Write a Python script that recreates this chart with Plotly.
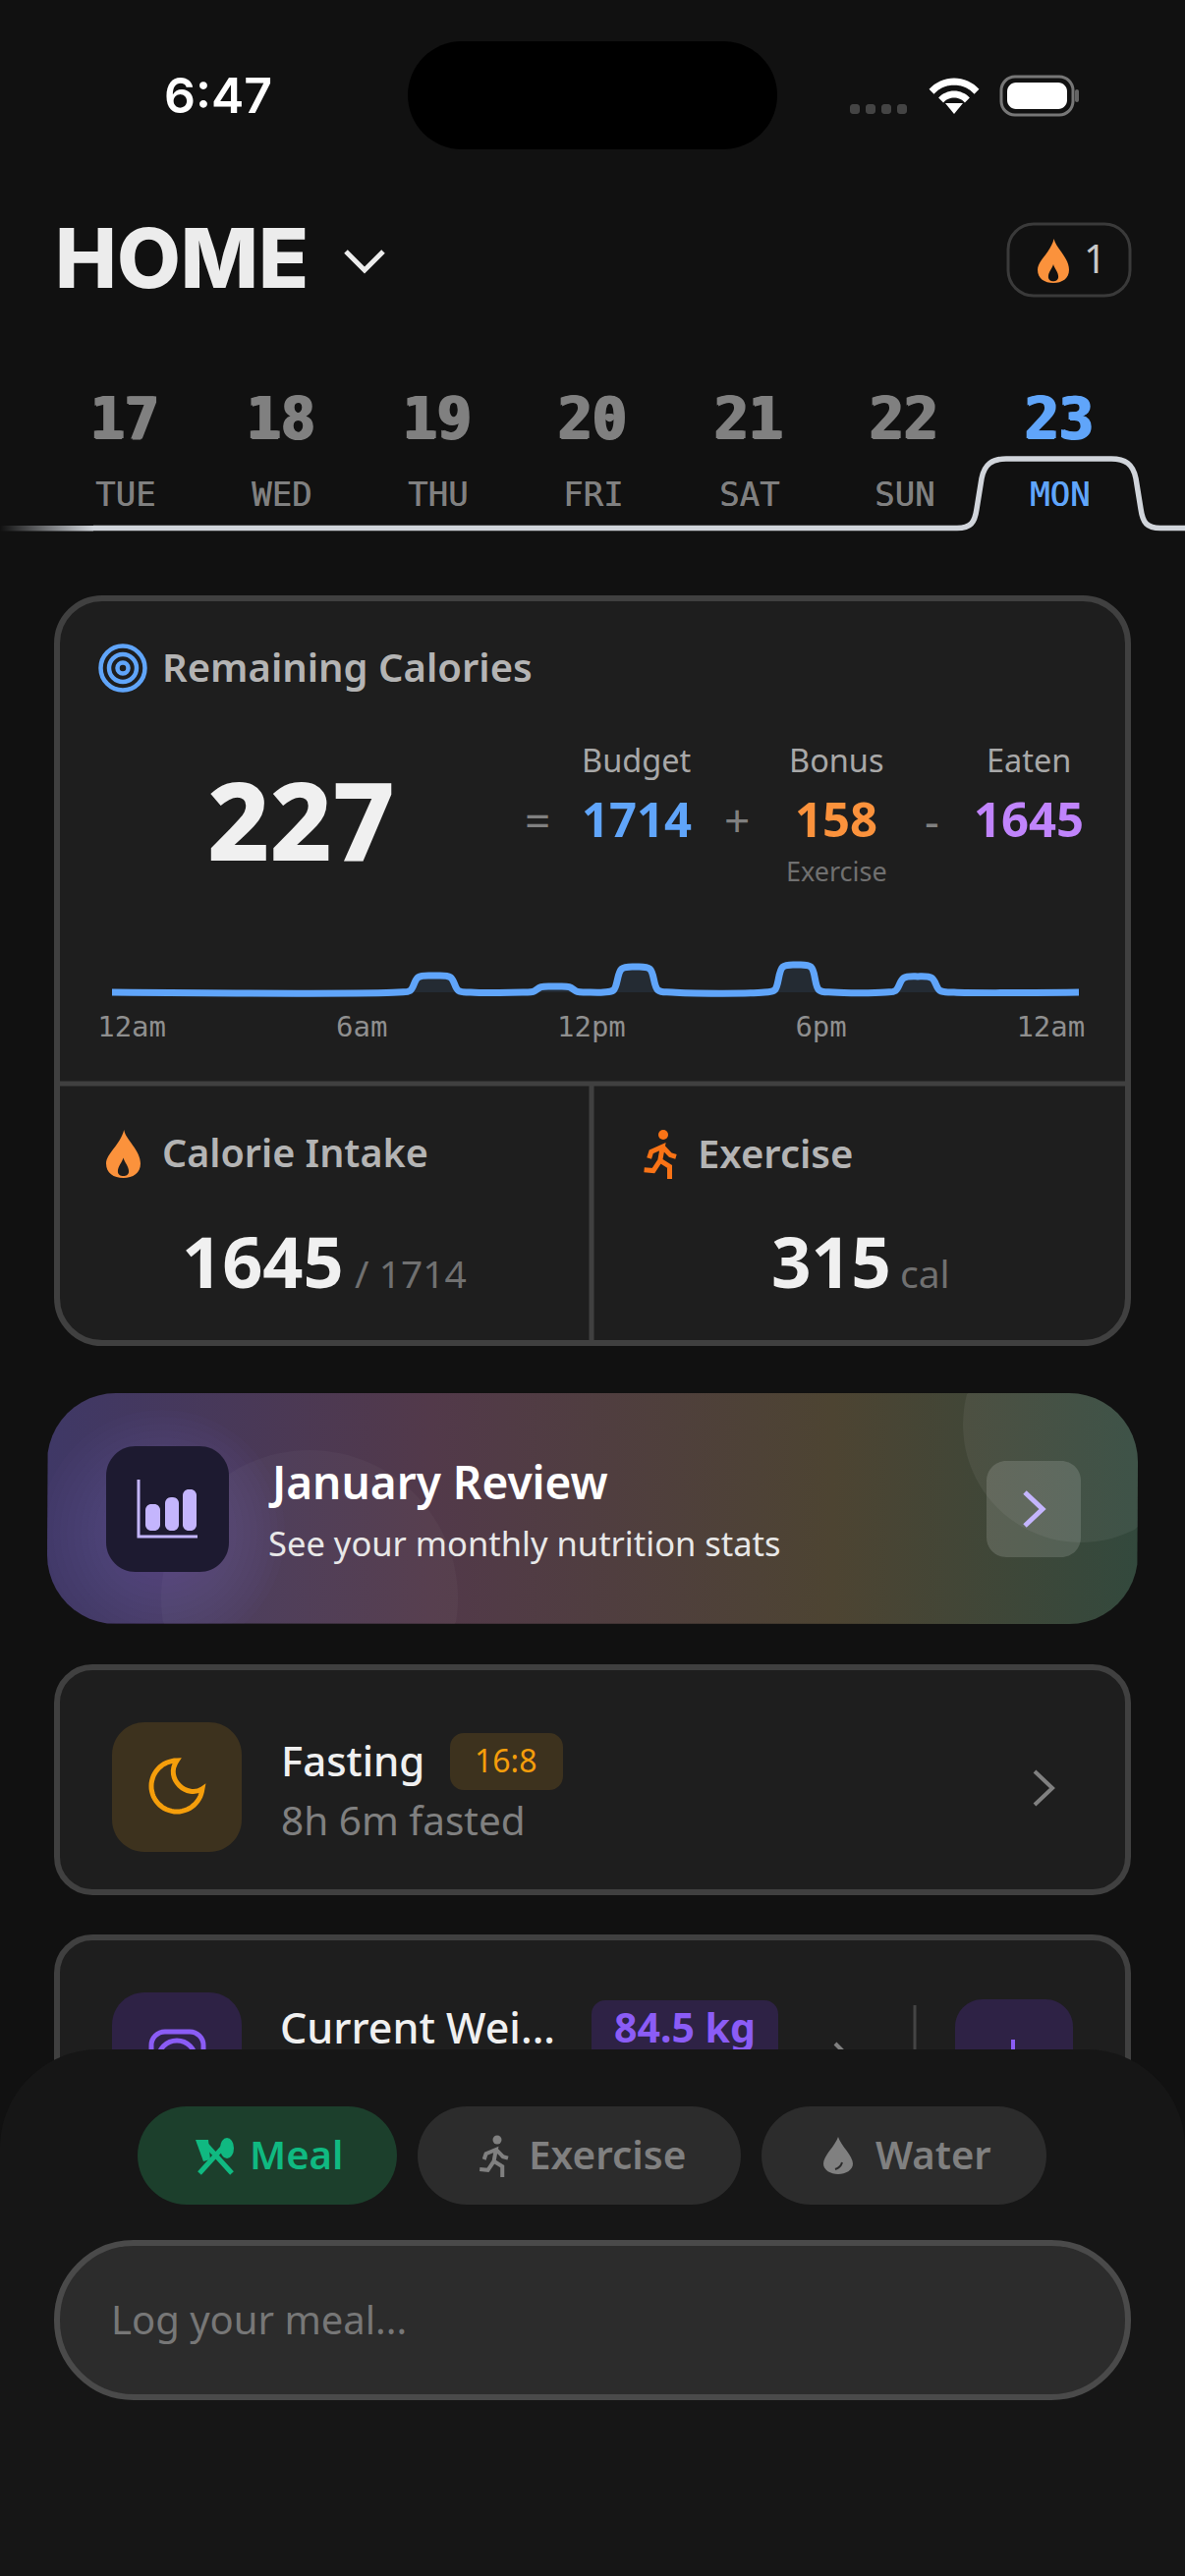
import math
import re
import plotly.graph_objects as go

W, H = 1206, 2622
BG = "#111111"
CARD = "#1e1e1e"
BORDER = "#404040"
BLUE = "#60a5fa"
ORANGE = "#fb923c"
PURPLE = "#8b5cf6"
GREY = "#808080"
UI = "Noto Sans"
MONO = "DejaVu Sans Mono"

# date strip
date_nums = ["17", "18", "19", "20", "21", "22", "23"]
date_days = ["TUE", "WED", "THU", "FRI", "SAT", "SUN", "MON"]
date_x = [127, 286, 445, 603, 762, 920, 1078]

# calorie summary
remaining = 227
budget = 1714
bonus = 158
eaten = 1645
exercise_cal = 315
weight = "84.5 kg"

# calories over the day
hours = [0, 7.1, 7.4, 7.6, 8.0, 8.4, 8.6, 8.9, 10.2, 10.45, 10.65, 11.0, 11.35, 11.55, 11.8,
         12.2, 12.45, 12.65, 13.0, 13.35, 13.55, 13.9, 16.2, 16.45, 16.65, 17.0, 17.35, 17.55, 17.9,
         19.2, 19.45, 19.65, 20.0, 20.35, 20.55, 20.9, 24]
calories = [0, 0, 30, 270, 300, 270, 30, 0, 0, 10, 95, 105, 95, 10, 0,
            0, 40, 420, 460, 420, 40, 0, 0, 40, 455, 495, 455, 40, 0,
            0, 30, 255, 285, 255, 30, 0, 0]
hour_labels = ["12am", "6am", "12pm", "6pm", "12am"]
hour_ticks = [0.49, 6.2, 11.9, 17.6, 23.3]

FLAME = "M .52 0 C .56 .2 1 .42 1 .7 C 1 .9 .78 1 .5 1 C .22 1 0 .9 0 .7 C 0 .5 .42 .3 .52 0 Z"
FLAME_HOLE = "M .5 .58 C .54 .68 .66 .76 .66 .86 C .66 .93 .58 .96 .5 .96 C .42 .96 .34 .93 .34 .86 C .34 .76 .46 .68 .5 .58 Z"
DROP = "M .5 0 C .6 .25 1 .5 1 .72 C 1 .9 .75 1 .5 1 C .25 1 0 .9 0 .72 C 0 .5 .4 .25 .5 0 Z"
RUNNER = ("M .1 .78 L .36 .8 L .55 .55 L .82 .7 L .82 1 M .55 .55 L .62 .22 L .3 .34 L .24 .5 "
          "M .62 .22 L .84 .42 L 1 .46")

shapes = []
annos = []


def add_path(path, fill="rgba(0,0,0,0)", line=None, width=0, layer="above"):
    shapes.append(dict(type="path", path=path, xref="x", yref="y", fillcolor=fill, layer=layer,
                       line=dict(color=line or "rgba(0,0,0,0)", width=width)))


def rr(x0, y0, x1, y1, r):
    k = r * 0.4477
    return (f"M {x0+r} {y0} L {x1-r} {y0} C {x1-k} {y0} {x1} {y0+k} {x1} {y0+r} "
            f"L {x1} {y1-r} C {x1} {y1-k} {x1-k} {y1} {x1-r} {y1} "
            f"L {x0+r} {y1} C {x0+k} {y1} {x0} {y1-k} {x0} {y1-r} "
            f"L {x0} {y0+r} C {x0} {y0+k} {x0+k} {y0} {x0+r} {y0} Z")


def box(x0, y0, x1, y1, r, fill, line=None, width=0, layer="above"):
    add_path(rr(x0, y0, x1, y1, r), fill, line, width, layer)


def icon(path, x, y, w, h):
    # scale a path written in a 0-1 box up to the page
    out = []
    nums = 0
    for tok in path.split():
        if re.match(r"[A-Z]", tok):
            out.append(tok)
        else:
            out.append(str(round(x + float(tok) * w if nums % 2 == 0 else y + float(tok) * h, 2)))
            nums += 1
    return " ".join(out)


def circle(cx, cy, r, fill="rgba(0,0,0,0)", line=None, width=0, layer="above"):
    shapes.append(dict(type="circle", xref="x", yref="y", x0=cx-r, x1=cx+r, y0=cy-r, y1=cy+r,
                       fillcolor=fill, layer=layer,
                       line=dict(color=line or "rgba(0,0,0,0)", width=width)))


def text(x, y, s, size, color, weight=400, anchor="left", font=UI, shadow=None):
    f = dict(family=font, size=size, color=color, weight=weight)
    if shadow:
        f["shadow"] = shadow
    if font == UI:
        y -= 2  # Noto sits a little low in its line box
    annos.append(dict(x=x, y=y, xref="x", yref="y", text=s, showarrow=False, xanchor=anchor, yanchor="middle",
                      font=f, borderpad=0))


# banner clipping
BAN = (48, 1418, 1158, 1653, 70)


def clamp_banner(px, py):
    x0, y0, x1, y1, r = BAN
    px = min(max(px, x0), x1)
    py = min(max(py, y0), y1)
    cx = x0 + r if px < x0 + r else (x1 - r if px > x1 - r else px)
    cy = y0 + r if py < y0 + r else (y1 - r if py > y1 - r else py)
    d = math.hypot(px - cx, py - cy)
    if cx != px and cy != py and d > r:
        px = cx + (px - cx) * r / d
        py = cy + (py - cy) * r / d
    return px, py


def banner_circle(cx, cy, r, fill):
    pts = [clamp_banner(cx + r * math.cos(i * math.pi / 60), cy + r * math.sin(i * math.pi / 60)) for i in range(120)]
    add_path("M " + " L ".join(f"{p[0]:.1f} {p[1]:.1f}" for p in pts) + " Z", fill)


def rr_points(x0, y0, x1, y1, r):
    xs, ys = [], []
    for cx, cy, a in [(x1-r, y0+r, -90), (x1-r, y1-r, 0), (x0+r, y1-r, 90), (x0+r, y0+r, 180)]:
        for i in range(13):
            t = math.radians(a + i * 7.5)
            xs.append(cx + r * math.cos(t))
            ys.append(cy + r * math.sin(t))
    return xs + xs[:1], ys + ys[:1]


fig = go.Figure()

# status bar
text(222, 97, "6:47", 50, "#ffffff", 600, "center", "Inter")
box(415, 42, 791, 152, 55, "#000000")
for sx in [865, 881, 897, 913]:
    box(sx, 106, sx + 10, 116, 3, "#444444")
for r, wd in [(31, 7), (18, 7)]:
    pts = [(971 + r * math.cos(math.radians(a)), 114 + r * math.sin(math.radians(a))) for a in range(222, 322, 6)]
    add_path("M " + " L ".join(f"{p[0]:.1f} {p[1]:.1f}" for p in pts), line="#ffffff", width=wd)
add_path("M 962 105 L 980 105 L 971 116 Z", "#ffffff")
box(1019, 78, 1092, 117, 14, "rgba(0,0,0,0)", "#777777", 3)
box(1025, 84, 1086, 111, 9, "#ffffff")
box(1094, 91, 1098, 104, 2, "#666666")

# header
text(55, 262, "HOME", 84, "#ececec", 800, "left", "Inter")
add_path("M 352 256 L 371 275 L 390 256", line="#ececec", width=5)
box(1026, 228, 1150, 301, 26, "rgba(0,0,0,0)", "#3a3a3a", 3)
add_path(icon(FLAME, 1056, 243, 32, 45), ORANGE)
add_path(icon(FLAME_HOLE, 1056, 243, 32, 45), BG)
text(1114, 264, "1", 40, "#c8c8c8", 400, "center")

# date strip
for i in range(7):
    col = BLUE if date_days[i] == "MON" else GREY
    text(date_x[i], 426, date_nums[i], 58, col, 700, "center", MONO,
         f"1.5px 0 0 {col}, -1.5px 0 0 {col}, 0 1px 0 {col}")
    text(date_x[i], 503, date_days[i], 34, col, 400, "center", MONO, f"0.5px 0 0 {col}")
fig.add_trace(go.Scatter(x=[0, 95, 95, 0, 0], y=[535, 535, 540.5, 540.5, 535], mode="lines", line=dict(width=0),
                         fill="toself", hoverinfo="skip", showlegend=False,
                         fillgradient=dict(type="horizontal", colorscale=[[0, BG], [1, "#d1d5db"]])))
add_path("M 95 537.5 L 974 537.5 C 988 537.5 992 532 994 518 L 999 487 C 1002 472 1010 467 1024 467 "
         "L 1131 467 C 1145 467 1153 472 1156 487 L 1161 518 C 1163 532 1167 537.5 1181 537.5 L 1206 537.5",
         line="#d1d5db", width=5.5)

# main card
box(58, 609, 1148, 1367, 46, CARD, BORDER, 6, "below")
add_path("M 58 1103 L 1148 1103", line=BORDER, width=5, layer="below")
add_path("M 602 1103 L 602 1367", line=BORDER, width=5, layer="below")
circle(125, 680, 22.5, line=BLUE, width=4.5)
circle(125, 680, 14, line=BLUE, width=4.5)
circle(125, 680, 5.5, line=BLUE, width=4.5)
text(164, 680, "Remaining Calories", 40, "#b4b4b4", 600)
text(306, 835, str(remaining), 110, "#f0f0f0", 800, "center")
text(547, 836, "=", 46, GREY, 400, "center")
text(750, 836, "+", 46, GREY, 400, "center")
text(948, 836, "-", 46, GREY, 400, "center")
for cx, head, val, col in [(648, "Budget", budget, BLUE), (851, "Bonus", bonus, ORANGE), (1047, "Eaten", eaten, "#c084fc")]:
    text(cx, 775, head, 32.5, "#a8a8a8", 400, "center")
    text(cx, 835, str(val), 49, col, 700, "center")
text(851, 888, "Exercise", 27, "#707070", 400, "center")

# the calorie line
fig.add_trace(go.Scatter(x=hours, y=calories, xaxis="x2", yaxis="y2", mode="lines",
                         line=dict(color=BLUE, width=7, shape="spline", smoothing=1.0),
                         fill="tozeroy", fillcolor="rgba(96,165,250,0.1)", hoverinfo="skip", showlegend=False))

add_path(icon(FLAME, 108, 1150, 35, 49), ORANGE)
add_path(icon(FLAME_HOLE, 108, 1150, 35, 49), CARD)
text(164, 1175, "Calorie Intake", 39.5, "#b4b4b4", 600)
add_path(icon(RUNNER, 652, 1158, 36, 42), line="#f97316", width=5)
circle(675, 1155, 5, "#f97316")
text(709, 1175, "Exercise", 40, "#b4b4b4", 600)
text(184, 1285, str(eaten), 72, "#f0f0f0", 700)
text(360, 1297, f"/ {budget}", 39, "#707070")
text(784, 1285, str(exercise_cal), 71, "#f0f0f0", 700)
text(915, 1297, "cal", 39, "#707070")

# monthly review banner
bx, by = rr_points(*BAN)
fig.add_trace(go.Scatter(x=bx, y=by, mode="lines", line=dict(width=0), fill="toself", hoverinfo="skip", showlegend=False,
                         fillgradient=dict(type="horizontal", colorscale=[[0, "#3f3866"], [0.35, "#52394a"], [0.72, "#4d4432"], [1, "#33493d"]])))
for k in range(14):
    banner_circle(165, 1560, 125 - k * 7, "rgba(120,85,190,0.03)")
banner_circle(315, 1627, 151, "rgba(255,255,255,0.03)")
banner_circle(1100, 1450, 120, "rgba(255,255,255,0.06)")
box(108, 1472, 233, 1600, 30, "#1d1a30")
add_path("M 141 1506 L 141 1564 L 201 1564", line="#c4b5fd", width=3)
box(148, 1531, 163, 1558, 6, "#c4b5fd")
box(168, 1524, 182, 1558, 6, "#c4b5fd")
box(186, 1516, 200, 1558, 6, "#c4b5fd")
text(272, 1510, "January Review", 46, "#ffffff", 600)
text(272, 1572, "See your monthly nutrition stats", 34.5, "#e8e8e8")
box(1004, 1487, 1100, 1585, 20, "rgba(255,255,255,0.14)")
add_path("M 1043 1519 L 1061 1536 L 1043 1553", line="#c4b5fd", width=5)

# fasting card
box(58, 1697, 1148, 1926, 36, CARD, BORDER, 6, "below")
box(114, 1753, 246, 1885, 33, "#3d321e")
pts = [(180 + 26 * math.cos(math.radians(a)), 1818 + 26 * math.sin(math.radians(a))) for a in range(270, 4, -6)]
add_path("M " + " L ".join(f"{p[0]:.1f} {p[1]:.1f}" for p in pts) + " C 191 1831 167 1811 180 1792 Z",
         line="#f59e0b", width=5)
text(285, 1793, "Fasting", 42, "#f0f0f0", 500)
box(458, 1764, 573, 1822, 14, "#3d321e")
text(515, 1793, "16:8", 32, "#f59e0b", 400, "center")
text(285, 1854, "8h 6m fasted", 40.5, GREY)
add_path("M 1053 1803 L 1071 1820 L 1053 1837", line=GREY, width=4)

# weight card, runs under the bottom panel
box(58, 1972, 1148, 2300, 36, CARD, BORDER, 6, "below")
box(114, 2028, 246, 2160, 33, "#2e2245", layer="below")
box(154, 2068, 207, 2125, 14, "rgba(0,0,0,0)", PURPLE, 5, "below")
circle(180, 2096, 19, line=PURPLE, width=5, layer="below")
box(602, 2036, 792, 2126, 14, "#2e2245", layer="below")
add_path("M 850 2080 L 870 2100 L 850 2120", line=GREY, width=4, layer="below")
add_path("M 931 2041 L 931 2120", line="#444444", width=3, layer="below")
box(972, 2035, 1092, 2155, 28, "#2e2245", layer="below")
add_path("M 1031 2076 L 1031 2115", line=PURPLE, width=4, layer="below")
fig.add_trace(go.Scatter(x=[285], y=[2069], mode="text", text=["Current Wei..."], textposition="middle right",
                         textfont=dict(family=UI, size=43, color="#f0f0f0", weight=500), hoverinfo="skip", showlegend=False))
fig.add_trace(go.Scatter(x=[697], y=[2069], mode="text", text=[weight], textposition="middle center",
                         textfont=dict(family=UI, size=41, color=PURPLE, weight=700), hoverinfo="skip", showlegend=False))

# bottom panel
add_path("M 0 2186 C 0 2131 45 2086 100 2086 L 1106 2086 C 1161 2086 1206 2131 1206 2186 L 1206 2622 L 0 2622 Z", "#161616")
box(140, 2144, 404, 2244, 50, "#1c3f2c")
box(425, 2144, 754, 2244, 50, "#2c2c2c")
box(775, 2144, 1065, 2244, 50, "#2c2c2c")
add_path("M 203 2212 L 232 2180 M 236 2212 L 207 2180", line="#10b981", width=5)
shapes.append(dict(type="circle", xref="x", yref="y", x0=224, x1=238, y0=2176, y1=2197, fillcolor="#10b981", line=dict(width=0)))
add_path("M 199 2178 L 212 2178 L 214 2198 L 207 2200 Z", "#10b981")
text(253, 2194, "Meal", 40, "#10b981", 600)
add_path(icon(RUNNER, 485, 2180, 32, 36), line=GREY, width=4)
circle(506, 2178, 4.5, GREY)
text(537, 2194, "Exercise", 40.5, GREY, 600)
add_path(icon(DROP, 838, 2175, 30, 38), GREY)
add_path("M 857 2201 C 856 2205 853 2207 850 2208", line="#2c2c2c", width=2)
text(890, 2194, "Water", 40, GREY, 600)
box(58, 2283, 1148, 2440, 78, "#2c2c2c", "#4a4a4a", 6)
text(112, 2362, "Log your meal...", 40, "#777777")

fig.update_layout(
    template="none",
    width=W, height=H, margin=dict(l=0, r=0, t=0, b=0, pad=0), paper_bgcolor=BG, plot_bgcolor="rgba(0,0,0,0)", showlegend=False,
    shapes=shapes, annotations=annos,
    xaxis=dict(range=[0, W], domain=[0, 1], visible=False, fixedrange=True, automargin=False),
    yaxis=dict(range=[H, 0], domain=[0, 1], visible=False, fixedrange=True, automargin=False),
    xaxis2=dict(range=[0, 24], domain=[114 / W, 1098 / W], anchor="y2", showgrid=False, zeroline=False, showline=False,
                tickvals=hour_ticks, ticktext=hour_labels, ticks="", fixedrange=True, ticklabelstandoff=5, automargin=False,
                tickfont=dict(family=MONO, size=29, color="#8f8f8f")),
    yaxis2=dict(range=[-177, 708], domain=[1 - 1020 / H, 1 - 970 / H], anchor="x2", visible=False, fixedrange=True, automargin=False),
)

fig.write_html("out.html", config=dict(displayModeBar=False),
               post_script="document.body.style.margin='0';document.body.style.overflow='hidden';")
